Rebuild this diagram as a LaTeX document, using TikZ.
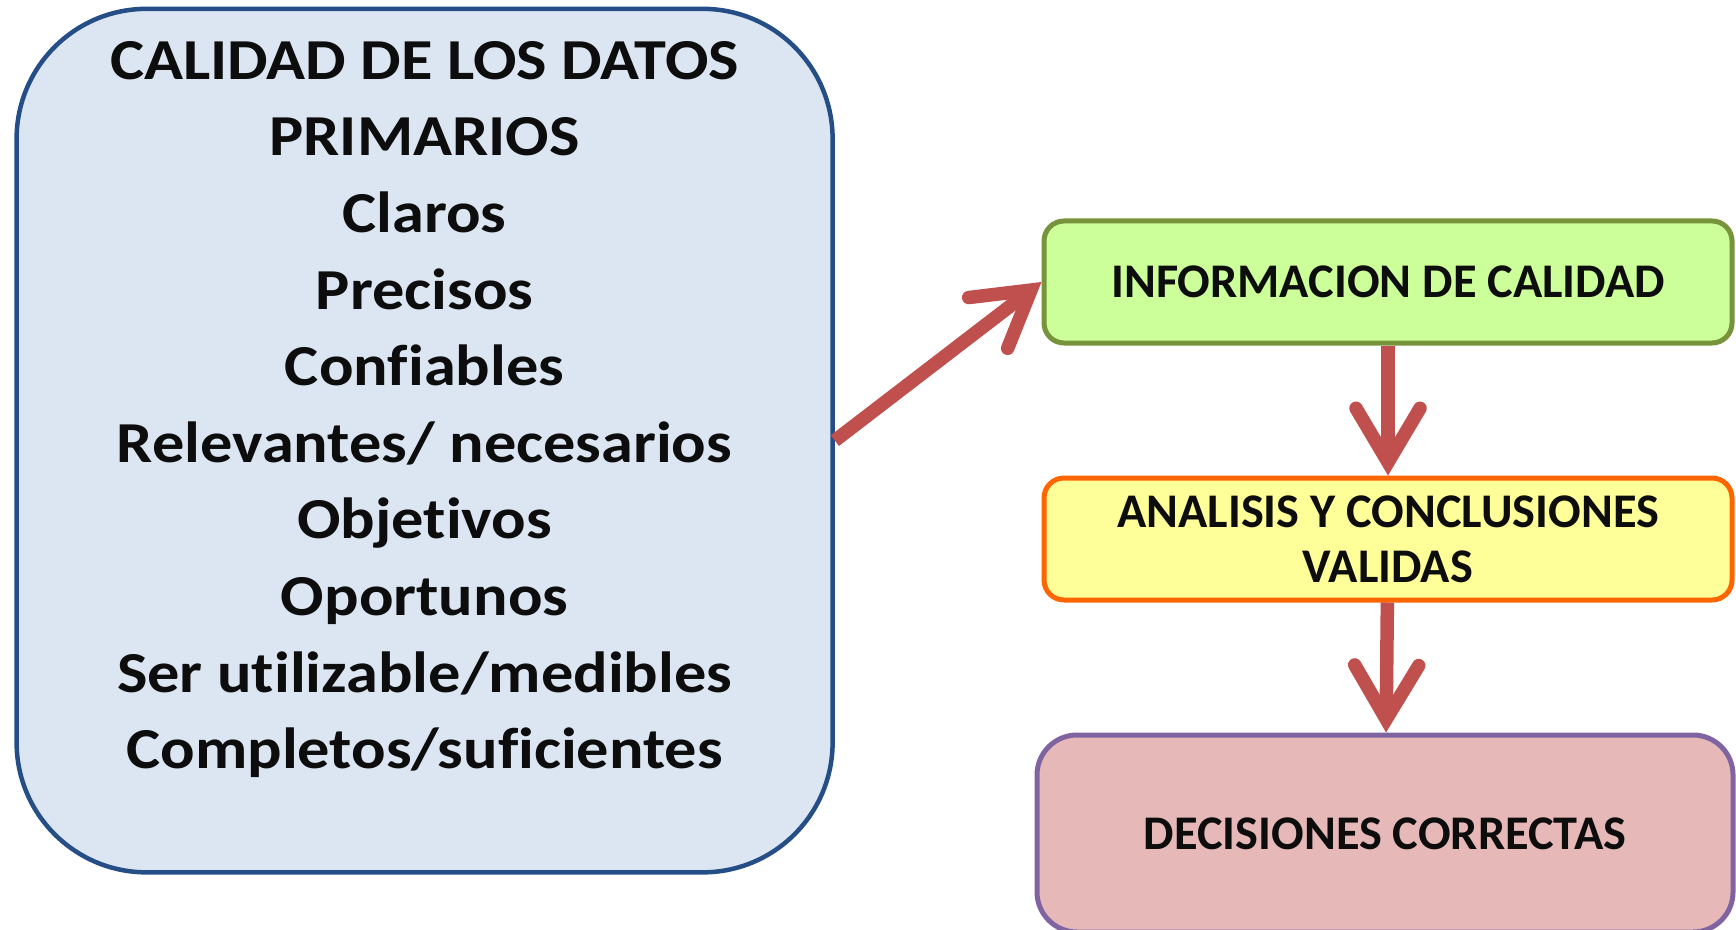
\documentclass[tikz,border=0pt]{standalone}
\usepackage{fontspec}
\setmainfont{Carlito}[Ligatures=CommonOff]
\newfontfamily\anchafont{Carlito}[Ligatures=CommonOff,FakeStretch=1.11]
\usetikzlibrary{arrows.meta,positioning}

\definecolor{datosfill}{HTML}{DCE6F2}
\definecolor{datosborde}{HTML}{254E86}
\definecolor{infofill}{HTML}{CCFF99}
\definecolor{infoborde}{HTML}{77933C}
\definecolor{analisisfill}{HTML}{FFFF99}
\definecolor{analisisborde}{HTML}{FF6600}
\definecolor{decisionesfill}{HTML}{E6B9B8}
\definecolor{decisionesborde}{HTML}{8064A2}
\definecolor{flecharoja}{HTML}{C0504D}
\definecolor{textogris}{HTML}{0D0D0D}

\tikzset{
  datosbox/.style={draw=datosborde, fill=datosfill, line width=0.045cm, rounded corners=1.3cm,
    minimum width=8.16cm, minimum height=8.635cm},
  datostxt/.style={align=center, text=textogris, font=\anchafont\fontsize{16.5}{21.8}\selectfont\bfseries},
  caja/.style={draw, rounded corners=0.2cm, line width=0.05cm, minimum width=6.88cm, minimum height=1.22cm,
    align=center, text=textogris, font=\fontsize{13.75}{15.6}\selectfont\bfseries},
  flecha/.style={draw=flecharoja, line width=0.135cm,
    -{Straight Barb[length=0.54cm,width=0.64cm,line cap=round,line join=miter]}}
}

\begin{document}
\begin{tikzpicture}
    \useasboundingbox (0,0) rectangle (17.36,9.29);

    \node[datosbox] (datos) at (4.246,4.884) {};
    \node[datostxt] (lista) at (4.246,5.195)
      {CALIDAD DE LOS DATOS\\PRIMARIOS\\Claros\\Precisos\\Confiables\\Relevantes/ necesarios\\Objetivos\\Oportunos\\Ser utilizable/medibles\\Completos/suficientes};

    \node[caja, fill=infofill, draw=infoborde] (info) at (13.88,6.47) {INFORMACION DE CALIDAD};
    \node[caja, fill=analisisfill, draw=analisisborde] (analisis) at (13.88,3.90) {ANALISIS Y CONCLUSIONES\\VALIDAS};
    \node[caja, fill=decisionesfill, draw=decisionesborde, minimum width=6.96cm, minimum height=1.97cm,
      rounded corners=0.4cm] (decisiones) at (13.85,0.955) {DECISIONES CORRECTAS};

    \draw[flecha] (datos.east) -- (info.west);
    \draw[flecha] (info) -- (analisis);
    \draw[flecha] (analisis) -- (decisiones);
\end{tikzpicture}
\end{document}
